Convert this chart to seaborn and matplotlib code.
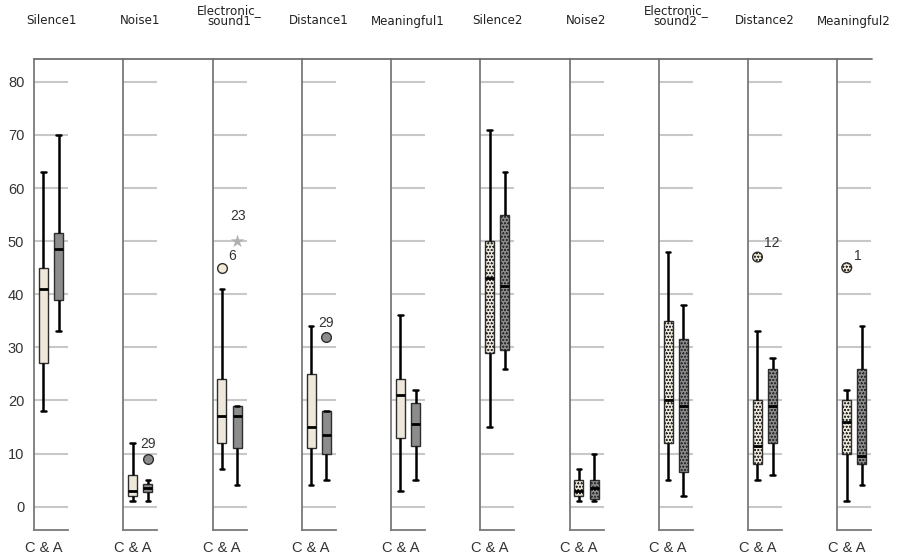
import numpy as np
import pandas as pd
import matplotlib
matplotlib.use("Agg")
import matplotlib.pyplot as plt
from matplotlib.lines import Line2D
import seaborn as sns

# ---- data -------------------------------------------------------------
panels = ["Silence1", "Noise1", "Electronic_\nsound1", "Distance1", "Meaningful1",
          "Silence2", "Noise2", "Electronic_\nsound2", "Distance2", "Meaningful2"]
groups = ["C", "A"]
category = "C & A"

# five-number summaries per panel: lower whisker, Q1, median, Q3, upper whisker
c_summary = [
    [18, 27, 41, 45, 63],
    [1, 2, 3, 6, 12],
    [7, 12, 17, 24, 41],
    [4, 11, 15, 25, 34],
    [3, 13, 21, 24, 36],
    [15, 29, 43, 50, 71],
    [1, 2, 3, 5, 7],
    [5, 12, 20, 35, 48],
    [5, 8, 11.5, 20, 33],
    [1, 10, 16, 20, 22],
]
a_summary = [
    [33, 39, 48.5, 51.5, 70],
    [1, 2.75, 3.5, 4.25, 5],
    [4, 11, 17, 19, 19],
    [5, 10, 13.5, 18, 18],
    [5, 11.5, 15.5, 19.5, 22],
    [26, 29.5, 41.5, 55, 63],
    [1, 1.5, 3.5, 5, 10],
    [2, 6.5, 19, 31.5, 38],
    [6, 12, 19, 26, 28],
    [4, 8, 9.5, 26, 34],
]

# outliers (circles) and extremes (stars) with their case labels
outlier_panel = [1, 2, 3, 8, 9]
outlier_group = ["A", "C", "A", "C", "C"]
outlier_value = [9, 45, 32, 47, 45]
outlier_label = ["29", "6", "29", "12", "1"]

extreme_panel = [2]
extreme_group = ["A"]
extreme_value = [50]
extreme_label = ["23"]

hatched_panels = [5, 6, 7, 8, 9]
y_ticks = [0, 10, 20, 30, 40, 50, 60, 70, 80]

# ---- styling ----------------------------------------------------------
sns.set_theme(style="white")
plt.rcParams["font.family"] = ["Liberation Sans", "DejaVu Sans"]
plt.rcParams["hatch.linewidth"] = 0.4

palette = {"C": "#f0ead6", "A": "#8c8c8c"}
edge = "#2e2e2e"
axis_grey = "#7a7a7a"
dots = "ooooo"

rows = []
for i, name in enumerate(panels):
    for g, summ in (("C", c_summary[i]), ("A", a_summary[i])):
        for v in summ:
            rows.append({"panel": i, "cat": category, "group": g, "value": v})
df = pd.DataFrame(rows)

odf = pd.DataFrame({"panel": outlier_panel, "cat": category, "group": outlier_group,
                    "value": outlier_value, "label": outlier_label})
edf = pd.DataFrame({"panel": extreme_panel, "cat": category, "group": extreme_group,
                    "value": extreme_value, "label": extreme_label})

W, H = 897, 560
fig = plt.figure(figsize=(W / 100, H / 100), dpi=100)

pitch = 89.25
ax_w = 34
bottom_px, top_px = 530, 59
dodge_x = {"C": -0.2, "A": 0.2}
label_offsets = {  # pixel offsets of case labels relative to their point
    (1, "A"): (0, 15),
    (2, "C"): (10, 12),
    (3, "A"): (0, 14),
    (8, "C"): (14, 14),
    (9, "C"): (11, 12),
    (2, "A"): (1, 25),
}


def case_labels(ax, frame, i):
    for _, r in frame.iterrows():
        dx, dy = label_offsets[(i, r.group)]
        ax.annotate(r.label, (dodge_x[r.group], r.value), xytext=(dx, dy),
                    textcoords="offset pixels", ha="center", va="center",
                    fontsize=10, color="#333333", annotation_clip=False)


for i, name in enumerate(panels):
    left_px = 34 + pitch * i
    ax = fig.add_axes([left_px / W, 1 - bottom_px / H, ax_w / W, (bottom_px - top_px) / H])
    sub = df[df.panel == i]
    sns.boxplot(data=sub, x="cat", y="value", hue="group", hue_order=groups,
                palette=palette, width=0.8, gap=0.4, whis=(0, 100), showfliers=False,
                linewidth=1.0, linecolor=edge, legend=False, ax=ax,
                medianprops=dict(color="black", linewidth=2.0),
                whiskerprops=dict(color="black", linewidth=1.8),
                capprops=dict(color="black", linewidth=1.8))
    hatched = i in hatched_panels
    if hatched:
        for p in ax.patches:
            p.set_hatch(dots)

    o = odf[odf.panel == i]
    if len(o):
        n_before = len(ax.collections)
        sns.stripplot(data=o, x="cat", y="value", hue="group", hue_order=groups,
                      palette=palette, dodge=True, jitter=False, size=7,
                      linewidth=1.0, edgecolor=edge, legend=False, ax=ax)
        if hatched:
            for coll in ax.collections[n_before:]:
                coll.set_hatch(dots)
        case_labels(ax, o, i)
    e = edf[edf.panel == i]
    if len(e):
        sns.stripplot(data=e, x="cat", y="value", hue="group", hue_order=groups,
                      palette={"C": "#b0b0b0", "A": "#b0b0b0"}, dodge=True,
                      jitter=False, size=10, marker="*", linewidth=0,
                      legend=False, ax=ax)
        case_labels(ax, e, i)

    ax.set_xlim(-0.4533, 0.4533)
    ax.set_ylim(-4.4, 84.3)
    ax.set_yticks(y_ticks)
    ax.set_xticks([-0.2], [category])
    ax.set_xlabel("")
    ax.set_ylabel("")
    ax.tick_params(axis="both", length=0)
    ax.tick_params(axis="x", pad=8, labelsize=10.5, labelcolor="#333333")
    ax.tick_params(axis="y", pad=7, labelsize=10.5, labelcolor="#333333",
                   labelleft=(i == 0))
    ax.yaxis.grid(True, color="#c8c8c8", linewidth=1.5)
    ax.set_axisbelow(True)
    for s in ("top", "right"):
        ax.spines[s].set_visible(False)
    for s in ("left", "bottom"):
        ax.spines[s].set_color(axis_grey)
        ax.spines[s].set_linewidth(1.3)

    fig.text((left_px + 17) / W, 1 - (21 if "\n" not in name else 16) / H, name,
             ha="center", va="center", fontsize=8.6, family="DejaVu Sans",
             color="#222222", linespacing=0.85)

fig.add_artist(Line2D([34 / W, 872 / W], [1 - top_px / H] * 2,
                      color="#6e6e6e", linewidth=1.3))

fig.savefig("out.png", dpi=100)
